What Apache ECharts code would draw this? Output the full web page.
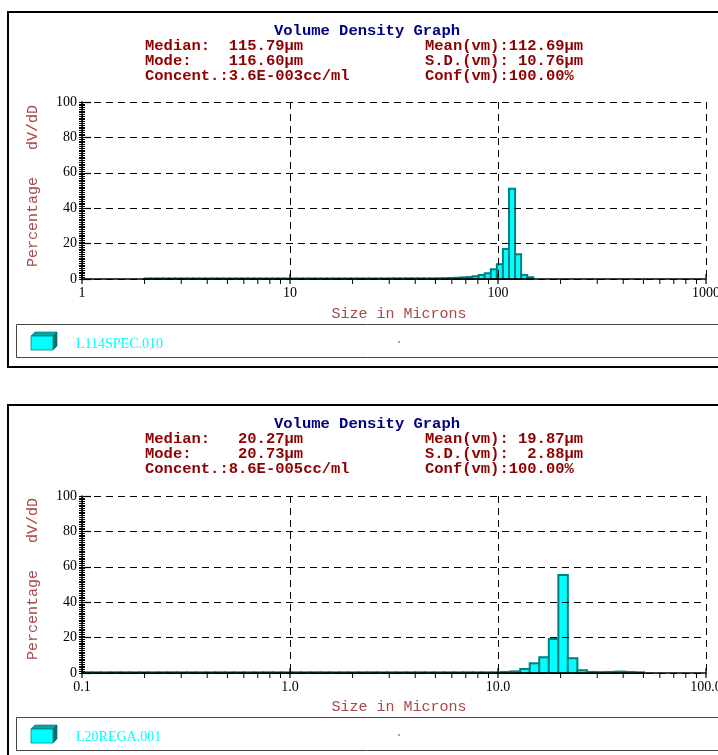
<!DOCTYPE html>
<html><head><meta charset="utf-8">
<script src="https://cdn.jsdelivr.net/npm/echarts@6/dist/echarts.min.js"></script>
<style>html,body{margin:0;padding:0;background:#fff}#c{width:718px;height:755px}</style>
</head><body><div id="c"></div>
<script>
// ---------- data ----------
const topEdges = [2.000,2.139,2.288,2.447,2.617,2.799,2.994,3.202,3.425,3.663,
 3.917,4.190,4.481,4.792,5.126,5.482,5.863,6.271,6.707,7.173,
 7.674,8.208,8.779,9.389,10.04,10.74,11.49,12.29,13.14,14.05,
 15.03,16.08,17.20,18.39,19.67,21.04,22.50,24.07,25.74,27.54,
 29.44,31.50,33.69,36.03,38.54,41.21,44.08,47.15,50.43,53.93,
 57.68,61.69,65.98,70.57,75.48,80.72,86.34,92.34,98.76,105.6,
 113.0,120.8,129.2,138.2,147.8];
const topValues = [0.3,0.3,0.3,0.3,0.3,0.3,0.3,0.3,0.3,0.3,
 0.3,0.3,0.3,0.3,0.3,0.3,0.3,0.3,0.3,0.3,
 0.3,0.3,0.3,0.3,0.3,0.3,0.3,0.3,0.3,0.3,
 0.3,0.3,0.3,0.3,0.3,0.3,0.3,0.3,0.3,0.3,
 0.35,0.35,0.35,0.35,0.35,0.35,0.35,0.35,0.4,0.45,
 0.55,0.7,0.9,1.1,1.5,2.2,3.2,5.5,8.3,17,
 51,14,2.3,1.0];
const bottomEdges = [0.1000,0.1111,0.1235,0.1372,0.1525,0.1694,0.1883,0.2092,0.2325,0.2584,
 0.2871,0.3190,0.3545,0.3939,0.4377,0.4864,0.5405,0.6006,0.6674,0.7416,
 0.8241,0.9158,1.018,1.131,1.257,1.396,1.552,1.724,1.916,2.129,
 2.366,2.629,2.922,3.247,3.608,4.009,4.455,4.950,5.501,6.113,
 6.792,7.548,8.387,9.320,10.36,11.51,12.79,14.21,15.79,17.55,
 19.50,21.67,24.08,26.76,29.73,33.04,36.71,40.79,45.33,50.37];
const bottomValues = [0.4,0.4,0.4,0.4,0.4,0.4,0.4,0.4,0.4,0.4,
 0.4,0.4,0.4,0.4,0.4,0.4,0.4,0.4,0.4,0.4,
 0.4,0.4,0.4,0.4,0.4,0.4,0.4,0.4,0.4,0.4,
 0.4,0.4,0.4,0.4,0.4,0.4,0.4,0.4,0.4,0.4,
 0.4,0.4,0.4,0.4,0.6,0.9,2.2,5.5,8.9,19.2,
 55.4,8.3,1.5,0.6,0.5,0.6,0.8,0.6,0.4];

const topMajorTicks = [1,10,100,1000];
const topMinorTicks = [2,3,4,5,6,7,8,9,20,30,40,50,60,70,80,90,200,300,400,500,600,700,800,900];
const bottomMajorTicks = [0.1,1,10,100];
const bottomMinorTicks = [0.2,0.3,0.4,0.5,0.6,0.7,0.8,0.9,2,3,4,5,6,7,8,9,20,30,40,50,60,70,80,90];

const chartTitle = 'Volume Density Graph';
const topStatsLeft = ['Median:  115.79\u00b5m','Mode:    116.60\u00b5m','Concent.:3.6E-003cc/ml'];
const topStatsRight = ['Mean(vm):112.69\u00b5m','S.D.(vm): 10.76\u00b5m','Conf(vm):100.00%'];
const bottomStatsLeft = ['Median:   20.27\u00b5m','Mode:     20.73\u00b5m','Concent.:8.6E-005cc/ml'];
const bottomStatsRight = ['Mean(vm): 19.87\u00b5m','S.D.(vm):  2.88\u00b5m','Conf(vm):100.00%'];
const topLegend = 'L114SPEC.010';
const bottomLegend = 'L20REGA.001';
const xName = 'Size in Microns';
const yName = 'Percentage   dV/dD';

// ---------- build ----------
function bins(edges, values){ return values.map((v,i)=>[edges[i], edges[i+1], v]); }

function renderBar(params, api){
  const p0 = api.coord([api.value(0), api.value(2)]);
  const p1 = api.coord([api.value(1), 0]);
  return {type:'rect', shape:{x:p0[0], y:p0[1], width:p1[0]-p0[0], height:p1[1]-p0[1]},
    style:{fill:'#00FFFF', stroke:'#008080', lineWidth:2}};
}
function renderMajor(params, api){
  const p = api.coord([api.value(0), 0]);
  return {type:'line', shape:{x1:p[0], y1:p[1]-5, x2:p[0], y2:p[1]+5}, style:{stroke:'#000', lineWidth:1.2}};
}
function renderMinor(params, api){
  const p = api.coord([api.value(0), 0]);
  return {type:'line', shape:{x1:p[0], y1:p[1], x2:p[0], y2:p[1]+5}, style:{stroke:'#000', lineWidth:1}};
}

const mono = '"Liberation Mono","DejaVu Sans Mono",monospace';
const serif = '"Liberation Serif","DejaVu Serif",serif';
const statColor = '#8E0000';
const nameColor = '#A84848';

function xAxisDef(gi, min, max, fmt){
  return {type:'log', logBase:10, gridIndex:gi, min:min, max:max, z:5,
    axisLine:{lineStyle:{color:'#000', width:1.5}},
    axisTick:{show:false},
    axisLabel:{color:'#000', fontFamily:serif, fontSize:14, margin:7, showMinLabel:true, showMaxLabel:true, formatter:fmt},
    splitLine:{show:true, lineStyle:{color:'#000', width:1, type:[7,5]}}};
}
function yAxisDefs(gi){
  return [{type:'value', gridIndex:gi, min:0, max:100, interval:20, z:5,
    axisLine:{show:true, lineStyle:{color:'#000', width:1.5}},
    axisTick:{show:true, inside:true, length:9, lineStyle:{color:'#000', width:1.2}},
    minorTick:{show:true, splitNumber:20, length:3, lineStyle:{color:'#000', width:1}},
    axisLabel:{color:'#000', fontFamily:serif, fontSize:14, margin:5},
    splitLine:{show:true, lineStyle:{color:'#000', width:1, type:[7,5]}}},
   {type:'value', gridIndex:gi, min:0, max:100, interval:20, position:'left', z:5,
    axisLine:{show:false},
    axisTick:{show:true, inside:false, length:3, lineStyle:{color:'#000', width:1}},
    minorTick:{show:true, splitNumber:20, length:3, lineStyle:{color:'#000', width:1}},
    axisLabel:{show:false}, splitLine:{show:false}}];
}

function panelGraphics(dy, statsL, statsR, legendText){
  const g = [];
  g.push({type:'rect', shape:{x:8, y:12+dy, width:730, height:355}, style:{fill:'none', stroke:'#000', lineWidth:2}, z:0});
  g.push({type:'text', style:{x:367, y:31+dy, text:chartTitle, font:'bold 15.5px '+mono, fill:'#000080', align:'center', verticalAlign:'middle'}});
  statsL.forEach((t,i)=>g.push({type:'text', style:{x:145, y:46+15*i+dy, text:t, font:'bold 15.5px '+mono, fill:statColor, align:'left', verticalAlign:'middle'}}));
  statsR.forEach((t,i)=>g.push({type:'text', style:{x:425, y:46+15*i+dy, text:t, font:'bold 15.5px '+mono, fill:statColor, align:'left', verticalAlign:'middle'}}));
  g.push({type:'text', x:33, y:186+dy, rotation:Math.PI/2, style:{x:0, y:0, text:yName, font:'15px '+mono, fill:nameColor, align:'center', verticalAlign:'middle'}});
  g.push({type:'text', style:{x:399, y:314+dy, text:xName, font:'15px '+mono, fill:nameColor, align:'center', verticalAlign:'middle'}});
  g.push({type:'rect', shape:{x:16.5, y:324.5+dy, width:720, height:33}, style:{fill:'none', stroke:'#444', lineWidth:1}});
  // legend cube icon
  g.push({type:'polygon', shape:{points:[[31,336+dy],[35,332+dy],[57,332+dy],[53,336+dy]]}, style:{fill:'#00A8A8', stroke:'#006666', lineWidth:0.6}});
  g.push({type:'polygon', shape:{points:[[53,336+dy],[57,332+dy],[57,346+dy],[53,350+dy]]}, style:{fill:'#007070', stroke:'#006666', lineWidth:0.6}});
  g.push({type:'rect', shape:{x:31, y:336+dy, width:22, height:14}, style:{fill:'#00FFFF', stroke:'#008080', lineWidth:0.8}});
  g.push({type:'text', style:{x:76, y:344+dy, text:legendText, font:'14px '+serif, fill:'#00FFFF', align:'left', verticalAlign:'middle'}});
  g.push({type:'circle', shape:{cx:399, cy:342+dy, r:0.8}, style:{fill:'#A00000'}});
  return g;
}

const chart = echarts.init(document.getElementById('c'), null, {renderer:'canvas'});
chart.setOption({
  animation:false,
  backgroundColor:'#fff',
  grid:[{left:82, top:102, width:624, height:177, outerBoundsMode:'none', containLabel:false},
        {left:82, top:496, width:624, height:177, outerBoundsMode:'none', containLabel:false}],
  xAxis:[xAxisDef(0, 1, 1000, v=>String(Math.round(v))),
         xAxisDef(1, 0.1, 100, v=>Number(v).toFixed(1))],
  yAxis:yAxisDefs(0).concat(yAxisDefs(1).map(a=>Object.assign(a,{gridIndex:1}))),
  series:[
    {type:'custom', xAxisIndex:0, yAxisIndex:0, renderItem:renderBar, encode:{x:[0,1], y:2}, data:bins(topEdges, topValues), z:2},
    {type:'custom', xAxisIndex:1, yAxisIndex:2, renderItem:renderBar, encode:{x:[0,1], y:2}, data:bins(bottomEdges, bottomValues), z:2},
    {type:'custom', xAxisIndex:0, yAxisIndex:0, renderItem:renderMajor, clip:false, encode:{x:0}, data:topMajorTicks.map(v=>[v]), z:6},
    {type:'custom', xAxisIndex:0, yAxisIndex:0, renderItem:renderMinor, clip:false, encode:{x:0}, data:topMinorTicks.map(v=>[v]), z:6},
    {type:'custom', xAxisIndex:1, yAxisIndex:2, renderItem:renderMajor, clip:false, encode:{x:0}, data:bottomMajorTicks.map(v=>[v]), z:6},
    {type:'custom', xAxisIndex:1, yAxisIndex:2, renderItem:renderMinor, clip:false, encode:{x:0}, data:bottomMinorTicks.map(v=>[v]), z:6}
  ],
  graphic:{elements: panelGraphics(0, topStatsLeft, topStatsRight, topLegend)
    .concat(panelGraphics(393, bottomStatsLeft, bottomStatsRight, bottomLegend))}
});
</script></body></html>
